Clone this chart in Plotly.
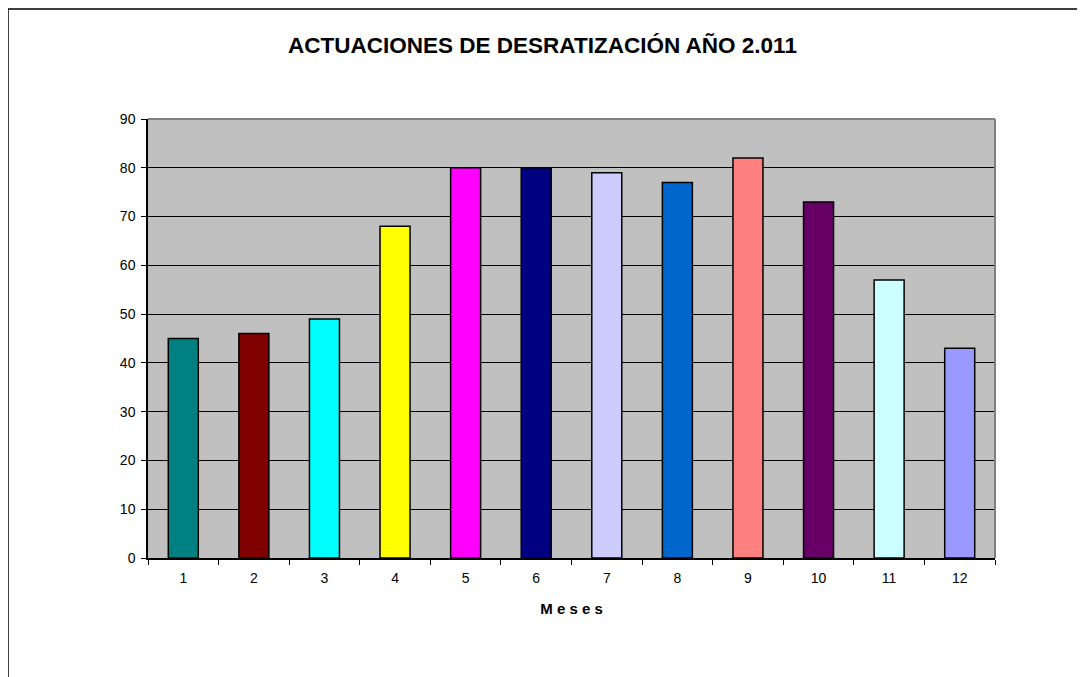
import plotly.graph_objects as go

meses = ["1", "2", "3", "4", "5", "6", "7", "8", "9", "10", "11", "12"]
actuaciones = [45, 46, 49, 68, 80, 80, 79, 77, 82, 73, 57, 43]
colores = [
    "#008080", "#800000", "#00FFFF", "#FFFF00", "#FF00FF", "#000080",
    "#CCCCFF", "#0066CC", "#FF8080", "#660066", "#CCFFFF", "#9999FF",
]

FONT = "Liberation Sans, Arial, sans-serif"

# the page body adds an 8px margin, so the figure is a bit smaller than the window
W, H = 1077, 669
L, R, T, B = 140, 90, 111, 119

fig = go.Figure(
    go.Bar(
        x=meses,
        y=actuaciones,
        marker=dict(color=colores, line=dict(color="#000000", width=1.5)),
        hovertemplate="Mes %{x}: %{y}<extra></extra>",
    )
)

pw = W - L - R
ph = H - T - B

fig.update_layout(
    width=W,
    height=H,
    paper_bgcolor="#FFFFFF",
    plot_bgcolor="#C0C0C0",
    font=dict(family=FONT, color="#000000", size=14),
    margin=dict(l=L, r=R, t=T, b=B),
    bargap=0.575,
    showlegend=False,
    title=dict(
        text="<b>ACTUACIONES DE DESRATIZACIÓN AÑO 2.011</b>",
        x=534.5 / W,
        xref="container",
        xanchor="center",
        y=1 - 37 / H,
        yanchor="middle",
        font=dict(family=FONT, size=22.5, color="#000000"),
    ),
    xaxis=dict(
        type="category",
        showgrid=False,
        showline=True,
        linecolor="#000000",
        linewidth=1.5,
        ticks="outside",
        tickson="boundaries",
        ticklen=5,
        tickcolor="#000000",
        ticklabelstandoff=6,
        tickfont=dict(size=14),
        title=dict(
            text="<b>M e s e s</b>",
            font=dict(family=FONT, size=15),
            standoff=19,
        ),
    ),
    yaxis=dict(
        range=[0, 90],
        dtick=10,
        showgrid=True,
        gridcolor="#000000",
        gridwidth=1,
        showline=True,
        linecolor="#000000",
        linewidth=1.5,
        ticks="outside",
        ticklen=5,
        tickcolor="#000000",
        ticklabelstandoff=3,
        tickfont=dict(size=14),
        zeroline=False,
    ),
    shapes=[
        # plot area top and right edges in gray
        dict(type="line", xref="paper", yref="paper", x0=0, x1=1, y0=1, y1=1,
             line=dict(color="#808080", width=2), layer="above"),
        dict(type="line", xref="paper", yref="paper", x0=1, x1=1, y0=0, y1=1,
             line=dict(color="#808080", width=2), layer="above"),
        # outer chart frame
        dict(type="rect", xref="paper", yref="paper",
             x0=(0 - L) / pw, x1=1.2, y0=-0.5, y1=(ph + T - 1) / ph,
             line=dict(color="#000000", width=1.5), layer="below"),
    ],
)

fig.write_html("out.html")
